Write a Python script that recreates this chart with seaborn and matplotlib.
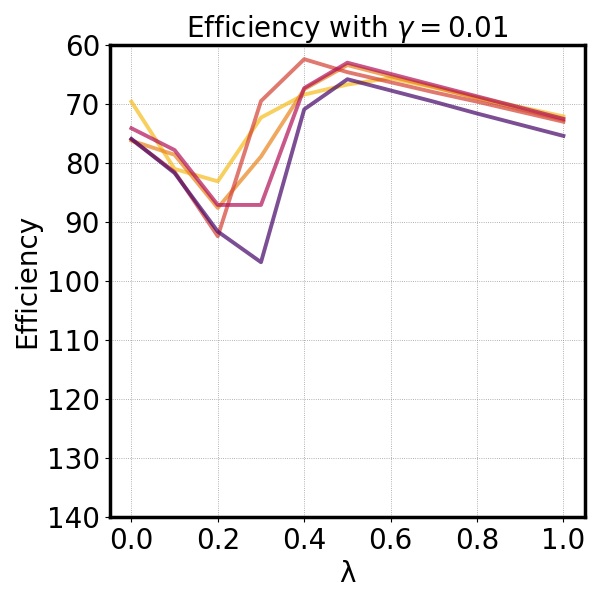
import numpy as np
import pandas as pd
import seaborn as sns
import matplotlib
matplotlib.use("Agg")
import matplotlib.pyplot as plt

lambdas = [0.0, 0.1, 0.2, 0.3, 0.4, 0.5, 0.6, 0.7, 0.8, 0.9, 1.0]

# efficiency values per run
eff_yellow = [69.6, 81.0, 83.1, 72.3, 68.4, 66.7, 65.6, 67.2, 68.9, 70.5, 72.1]
eff_orange = [76.2, 78.6, 87.6, 78.9, 67.5, 63.4, 65.3, 67.1, 69.0, 70.9, 72.7]
eff_salmon = [76.0, 81.5, 92.4, 69.5, 62.4, 64.6, 66.3, 68.0, 69.6, 71.3, 73.0]
eff_magenta = [74.1, 77.8, 87.1, 87.1, 67.3, 63.0, 64.9, 66.8, 68.7, 70.6, 72.5]
eff_purple = [75.9, 81.7, 91.6, 96.8, 70.9, 65.8, 67.7, 69.6, 71.6, 73.5, 75.4]

runs = ["yellow", "orange", "salmon", "magenta", "purple"]
colors = ["#f5bc1c", "#e9831c", "#d34133", "#b11058", "#450569"]

df = pd.DataFrame({
    "lambda": lambdas * 5,
    "eff": eff_yellow + eff_orange + eff_salmon + eff_magenta + eff_purple,
    "run": sum([[r] * len(lambdas) for r in runs], []),
})

fig, ax = plt.subplots(figsize=(6, 6), dpi=100)
fig.subplots_adjust(left=0.183, right=0.975, top=0.925, bottom=0.138)

sns.lineplot(data=df, x="lambda", y="eff", hue="run", palette=colors,
             linewidth=2.8, alpha=0.7, legend=False, ax=ax)

ax.set_ylim(140, 60)
ax.set_yticks(np.arange(60, 141, 10))
ax.set_xticks([0.0, 0.2, 0.4, 0.6, 0.8, 1.0])
ax.grid(True, linestyle=":", color="#999999", linewidth=0.6)
for s in ax.spines.values():
    s.set_linewidth(2.5)
    s.set_color("black")
ax.tick_params(labelsize=20)
ax.set_title(r"Efficiency with $\gamma = 0.01$", fontsize=20)
ax.set_xlabel("λ", fontsize=20)
ax.set_ylabel("Efficiency", fontsize=20)

plt.savefig("out.png")
